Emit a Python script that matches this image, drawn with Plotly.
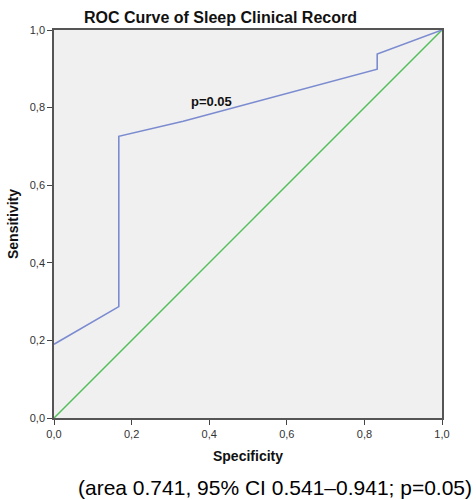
import plotly.graph_objects as go

spec = [0, 0.167, 0.167, 0.333, 0.833, 0.833, 1.0]
sens = [0.19, 0.287, 0.726, 0.765, 0.899, 0.938, 1.0]
ref_x = [0, 1]
ref_y = [0, 1]
ticks = [0, 0.2, 0.4, 0.6, 0.8, 1.0]
tick_text = ["0,0", "0,2", "0,4", "0,6", "0,8", "1,0"]

FONT = "Liberation Sans, Arial, sans-serif"

fig = go.Figure()
fig.add_trace(go.Scatter(x=ref_x, y=ref_y, mode="lines",
                         line=dict(color="#52bf5a", width=1.5), showlegend=False))
fig.add_trace(go.Scatter(x=spec, y=sens, mode="lines",
                         line=dict(color="#7b8bd0", width=1.6), showlegend=False))

axis_common = dict(range=[0, 1], tickvals=ticks, ticktext=tick_text,
                   ticks="outside", ticklen=5, tickwidth=1, tickcolor="#444",
                   showline=True, linecolor="#555", linewidth=1.5, mirror=True,
                   showgrid=False, zeroline=False,
                   tickfont=dict(family=FONT, size=11, color="#333"))

fig.update_layout(
    width=476, height=500,
    margin=dict(l=54, r=34, t=30, b=82),
    paper_bgcolor="white", plot_bgcolor="#f0f0f0",
    xaxis=dict(**axis_common,
               title=dict(text="<b>Specificity</b>", font=dict(family=FONT, size=14, color="#111"), standoff=12)),
    yaxis=dict(**axis_common,
               title=dict(text="<b>Sensitivity</b>", font=dict(family=FONT, size=14, color="#111"), standoff=8)),
    annotations=[
        dict(text="<b>ROC Curve of Sleep Clinical Record</b>", xref="paper", yref="paper",
             x=(220 - 54) / 388, y=1, yshift=2, xanchor="center", yanchor="bottom",
             showarrow=False, font=dict(family=FONT, size=16, color="#111")),
        dict(text="<b>p=0.05</b>", x=0.407, y=0.815, xref="x", yref="y",
             showarrow=False, font=dict(family=FONT, size=13, color="#111")),
        dict(text="(area 0.741, 95% CI 0.541\u20130.941; p=0.05)", xref="paper", yref="paper",
             x=(274.5 - 54) / 388, y=-(487 - 418) / 388, xanchor="center", yanchor="middle",
             showarrow=False, font=dict(family=FONT, size=21, color="#000")),
    ],
)

fig.write_html("out.html")
